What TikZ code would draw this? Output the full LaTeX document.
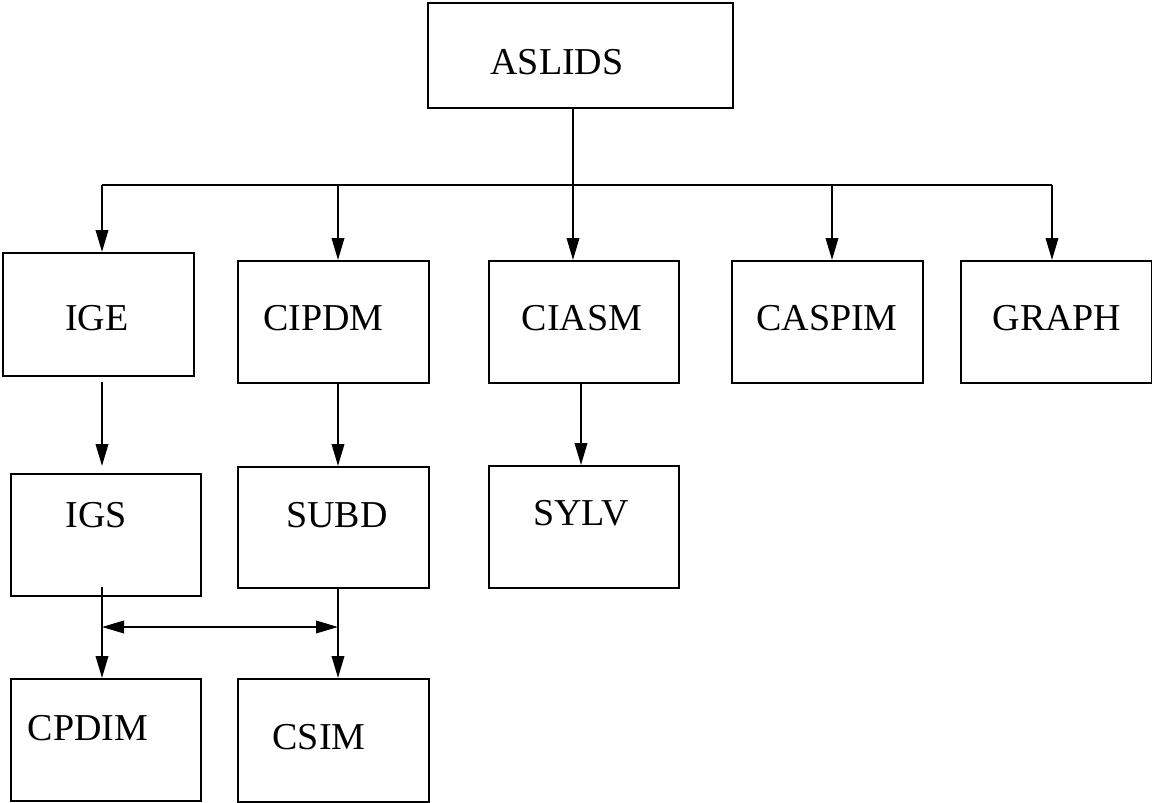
\documentclass[tikz,border=0pt]{standalone}
\usepackage{fontspec}
\setmainfont{Liberation Serif}
\usetikzlibrary{arrows.meta}
\begin{document}
\begin{tikzpicture}[x=1pt,y=-1pt,
  box/.style={draw,line width=2pt,minimum width=#1,minimum height=122pt,inner sep=0pt},
  box/.default=191pt,
  txt/.style={font=\fontsize{38}{38}\selectfont},
  conn/.style={line width=2pt},
  tipshape/.tip={Triangle[length=22pt,width=12.5pt]},
  arr/.style={line width=2pt,-tipshape},
  darr/.style={line width=2pt,tipshape-tipshape}]
\useasboundingbox (0,0) rectangle (1152,803);
% boxes
\node[box=305pt,minimum height=105pt,label={[txt,xshift=-23.5pt,yshift=-6.5pt]center:ASLIDS}] (ASLIDS) at (580.5,55.5) {};
\node[box,minimum height=123pt,label={[txt,xshift=-1.5pt,yshift=-3.5pt]center:IGE}] (IGE) at (98.5,314.5) {};
\node[box,label={[txt,xshift=-10pt,yshift=4pt]center:CIPDM}] (CIPDM) at (333.5,322) {};
\node[box=190pt,label={[txt,xshift=-2pt,yshift=4pt]center:CIASM}] (CIASM) at (584,322) {};
\node[box,label={[txt,xshift=-0.5pt,yshift=4pt]center:CASPIM}] (CASPIM) at (827.5,322) {};
\node[box,label={[txt,xshift=0.5pt,yshift=4pt]center:GRAPH}] (GRAPH) at (1056.5,322) {};
\node[box=190pt,label={[txt,xshift=-10pt,yshift=20pt]center:IGS}] (IGS) at (106,535) {};
\node[box,minimum height=121pt,label={[txt,xshift=3.5pt,yshift=12.5pt]center:SUBD}] (SUBD) at (333.5,527.5) {};
\node[box=190pt,label={[txt,xshift=-3pt,yshift=14pt]center:SYLV}] (SYLV) at (584,527) {};
\node[box=190pt,label={[txt,xshift=-18pt,yshift=12pt]center:CPDIM}] (CPDIM) at (106,740) {};
\node[box,minimum height=123pt,label={[txt,xshift=-14.5pt,yshift=3.5pt]center:CSIM}] (CSIM) at (333.5,740.5) {};
% bus
\coordinate (fork) at (573,185);
\coordinate (b1) at (102,185);
\coordinate (b2) at (338,185);
\coordinate (b4) at (832,185);
\coordinate (b5) at (1052,185);
\draw[conn] (b1) -- (b5);
\draw[conn] (ASLIDS.south -| fork) -- (fork);
\draw[arr] (fork) -- (fork |- CIASM.north);
\draw[arr] (b1) -- (b1 |- IGE.north);
\draw[arr] (b2) -- (b2 |- CIPDM.north);
\draw[arr] (b4) -- (b4 |- CASPIM.north);
\draw[arr] (b5) -- (b5 |- GRAPH.north);
% second level
\coordinate (c1) at (102,382);
\coordinate (c1e) at (102,466);
\draw[arr] (c1) -- (c1e);
\coordinate (c2) at (338,383);
\draw[arr] (c2) -- (c2 |- SUBD.north);
\coordinate (c3) at (581,383);
\draw[arr] (c3) -- (c3 |- SYLV.north);
% third level
\coordinate (d1) at (102,587);
\draw[arr] (d1) -- (d1 |- CPDIM.north);
\coordinate (d2) at (338,588);
\draw[arr] (d2) -- (d2 |- CSIM.north);
\coordinate (e1) at (102,627);
\coordinate (e2) at (338,627);
\draw[darr] (e1) -- (e2);
\end{tikzpicture}
\end{document}
